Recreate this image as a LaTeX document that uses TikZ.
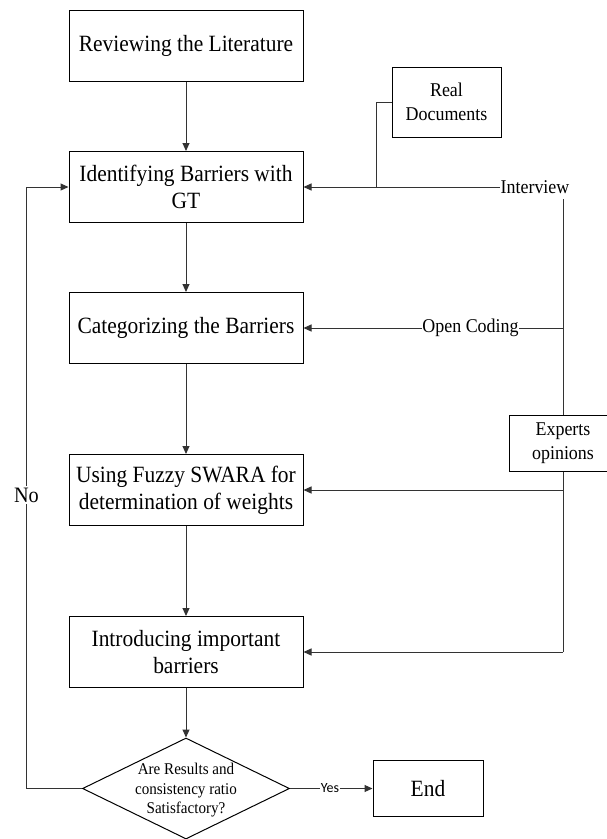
\documentclass[tikz,border=0pt]{standalone}
\usepackage{fontspec}
\setmainfont{Liberation Serif}[FakeStretch=0.92]
\newfontfamily\yesfont{Carlito}
\usetikzlibrary{shapes.geometric,arrows.meta}

\begin{document}
\begin{tikzpicture}[x=1pt,y=-1pt,line width=1pt,>={Triangle[length=8pt,width=7pt]},
stage/.style={draw,minimum width=234pt,minimum height=71pt,align=center,inner sep=2pt,font=\fontsize{23.3}{26.7}\selectfont},
source/.style={draw,minimum width=109pt,minimum height=70pt,align=center,inner sep=2pt,font=\fontsize{19.5}{24}\selectfont},
tag/.style={inner sep=0.3pt,font=\fontsize{19.5}{24}\selectfont},
decision/.style={draw,diamond,minimum width=207pt,minimum height=101pt,inner sep=0pt},
asks/.style={align=center,inner sep=0pt,font=\fontsize{16.4}{19.5}\selectfont},
link/.style={draw=black!80}]
\useasboundingbox (0,0) rectangle (606,839);
\node[stage] (lit) at (186,45.5) {Reviewing the Literature};
\node[stage] (ident) at (186,187) {Identifying Barriers with\\GT};
\node[stage] (categ) at (186,328) {Categorizing the Barriers};
\node[stage] (fuzzy) at (186,490) {Using Fuzzy SWARA for\\determination of weights};
\node[stage] (intro) at (186,652) {Introducing important\\barriers};
\node[decision] (check) at (186,788.5) {};
\node[asks] (checktext) at (186,790.5) {Are Results and\\consistency ratio\\Satisfactory?};
\node[stage,minimum width=110pt,minimum height=56pt] (end) at (428,788.5) {End};
\node[source] (docs) at (446.5,102) {Real\\Documents};
\node[source,minimum width=108pt,minimum height=56pt] (experts) at (563,443) {Experts\\opinions};
\node[tag] (interview) at (535,187) {Interview};
\node[tag] (opencode) at (470.5,328) {Open Coding};
\node[tag,inner sep=1.5pt,font=\fontsize{22}{24}\selectfont] (no) at (26.5,495) {No};
\node[inner sep=0.3pt,font=\yesfont\fontsize{14}{17}\selectfont] (yes) at (330,788.5) {Yes};
\coordinate (join) at (376,187);
\coordinate (railtop) at (563,199);
\coordinate (railb) at (563,328);
\coordinate (railc) at (563,490);
\coordinate (raild) at (563,652);
\draw[link,->] (lit) -- (ident);
\draw[link,->] (ident) -- (categ);
\draw[link,->] (categ) -- (fuzzy);
\draw[link,->] (fuzzy) -- (intro);
\draw[link,->] (intro) -- (check);
\draw[link] (docs.west) -| (join);
\draw[link,->] (interview) -- (ident);
\draw[link] (railtop) -- (experts.north);
\draw[link] (experts.south) -- (raild);
\draw[link] (railb) -- (opencode);
\draw[link,->] (opencode) -- (categ);
\draw[link,->] (railc) -- (fuzzy);
\draw[link,->] (raild) -- (intro);
\draw[link] (check.west) -| (no);
\draw[link,->] (no) |- (ident.west);
\draw[link] (check.east) -- (yes);
\draw[link,->] (yes) -- (end);
\end{tikzpicture}
\end{document}
